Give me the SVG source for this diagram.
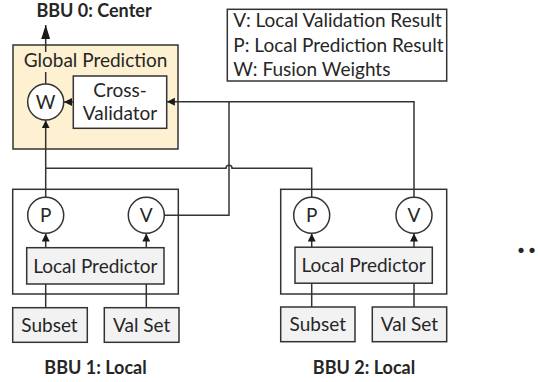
<svg xmlns="http://www.w3.org/2000/svg" width="538" height="382" viewBox="0 0 538 382">
  <style>
    .t { font-family: Lato, "Open Sans", "Liberation Sans", sans-serif; font-size: 19px; fill: #262626; }
    .tm { text-anchor: middle; }
    .b { font-weight: bold; font-size: 18px; }
    .box { stroke: #333; stroke-width: 1.5; }
    .white { fill: #ffffff; }
    .gray { fill: #f2f2f2; }
    .yel { fill: #fdf1d2; }
    .ln { fill: none; stroke: #333; stroke-width: 1.5; }
  </style>
  <defs>
    <marker id="ah" viewBox="0 0 10 10" refX="10" refY="5" markerWidth="8" markerHeight="8" orient="auto" markerUnits="userSpaceOnUse">
      <path d="M0,0 L10,5 L0,10 z" fill="#1a1a1a"/>
    </marker>
    <marker id="ahL" viewBox="0 0 14 9" refX="14" refY="4.5" markerWidth="14" markerHeight="9" orient="auto" markerUnits="userSpaceOnUse">
      <path d="M0,0 L14,4.5 L0,9 z" fill="#1a1a1a"/>
    </marker>
  </defs>

  <!-- BBU 0: Center -->
  <g id="bbu0">
    <text class="t tm b" x="94" y="17">BBU 0: Center</text>
    <rect class="box yel" x="13" y="45" width="165" height="104"/>
    <text class="t tm" x="95.5" y="66.5">Global Prediction</text>
  </g>
  <g id="w-node">
    <circle class="box white" cx="45.7" cy="102" r="18"/>
    <text class="t tm" x="45.7" y="108.5">W</text>
  </g>
  <g id="cross-validator">
    <rect class="box white" x="73.3" y="76" width="93.4" height="52.3"/>
    <text class="t tm" x="120" y="96.7">Cross-</text>
    <text class="t tm" x="120" y="120">Validator</text>
  </g>

  <!-- Legend -->
  <g id="legend">
    <rect class="box white" x="227.3" y="9.3" width="219.4" height="71.7"/>
    <text class="t" x="233.3" y="26.7">V: Local Validation Result</text>
    <text class="t" x="233.3" y="51.7">P: Local Prediction Result</text>
    <text class="t" x="233.3" y="76">W: Fusion Weights</text>
  </g>

  <!-- BBU 1 -->
  <g id="bbu1">
    <rect class="box white" x="12.7" y="189.3" width="165.6" height="104.7"/>
    <text class="t tm b" x="95.5" y="373.5">BBU 1: Local</text>
  </g>
  <g id="p1">
    <circle class="box white" cx="45.7" cy="215.3" r="18"/>
    <text class="t tm" x="45.7" y="222">P</text>
  </g>
  <g id="v1">
    <circle class="box white" cx="146.3" cy="215.3" r="18"/>
    <text class="t tm" x="146.3" y="222">V</text>
  </g>
  <g id="lp1">
    <rect class="box gray" x="26.7" y="247.7" width="137.3" height="36.3"/>
    <text class="t tm" x="95.3" y="272.5">Local Predictor</text>
  </g>
  <g id="subset1">
    <rect class="box gray" x="12.7" y="307.7" width="74.6" height="34.6"/>
    <text class="t tm" x="49.5" y="331.7">Subset</text>
  </g>
  <g id="valset1">
    <rect class="box gray" x="104.3" y="307.7" width="74.7" height="34.6"/>
    <text class="t tm" x="141.7" y="331.7">Val Set</text>
  </g>

  <!-- BBU 2 -->
  <g id="bbu2">
    <rect class="box white" x="280.7" y="189.3" width="166" height="104.7"/>
    <text class="t tm b" x="364" y="373.5">BBU 2: Local</text>
  </g>
  <g id="p2">
    <circle class="box white" cx="311.7" cy="215.3" r="18"/>
    <text class="t tm" x="311.7" y="222">P</text>
  </g>
  <g id="v2">
    <circle class="box white" cx="414" cy="215.3" r="18"/>
    <text class="t tm" x="414" y="222">V</text>
  </g>
  <g id="lp2">
    <rect class="box gray" x="295" y="247.2" width="137.3" height="36"/>
    <text class="t tm" x="363.6" y="272">Local Predictor</text>
  </g>
  <g id="subset2">
    <rect class="box gray" x="280.7" y="307" width="74.3" height="34.7"/>
    <text class="t tm" x="317.8" y="331">Subset</text>
  </g>
  <g id="valset2">
    <rect class="box gray" x="372.3" y="307" width="74.4" height="34.7"/>
    <text class="t tm" x="409.5" y="331">Val Set</text>
  </g>

  <g id="more">
    <text class="t b" x="517" y="253" style="font-size:34px; letter-spacing:3px">..</text>
  </g>

  <!-- Connectors -->
  <g id="connectors">
    <path class="ln" d="M45.7,197.3 V120.3" marker-end="url(#ah)"/>
    <path class="ln" d="M311.7,197.3 V168.3 H232 a3,3 0 0 0 -6,0 H45.7"/>
    <path class="ln" d="M164.3,215.3 H229 V101.7"/>
    <path class="ln" d="M414,197.3 V101.7 H166.9" marker-end="url(#ah)"/>
    <path class="ln" d="M73.3,102 H64" marker-end="url(#ah)"/>
    <path class="ln" d="M45.7,84 V72"/>
    <path class="ln" d="M45.7,52 V25" marker-end="url(#ahL)"/>
    <path class="ln" d="M45.7,247.7 V233.5" marker-end="url(#ah)"/>
    <path class="ln" d="M146.3,247.7 V233.5" marker-end="url(#ah)"/>
    <path class="ln" d="M311.7,247.2 V233.5" marker-end="url(#ah)"/>
    <path class="ln" d="M414,247.2 V233.5" marker-end="url(#ah)"/>
    <path class="ln" d="M45.7,307.7 V284"/>
    <path class="ln" d="M146.3,307.7 V284"/>
    <path class="ln" d="M311.7,307 V283.2"/>
    <path class="ln" d="M414,307 V283.2"/>
  </g>
</svg>
